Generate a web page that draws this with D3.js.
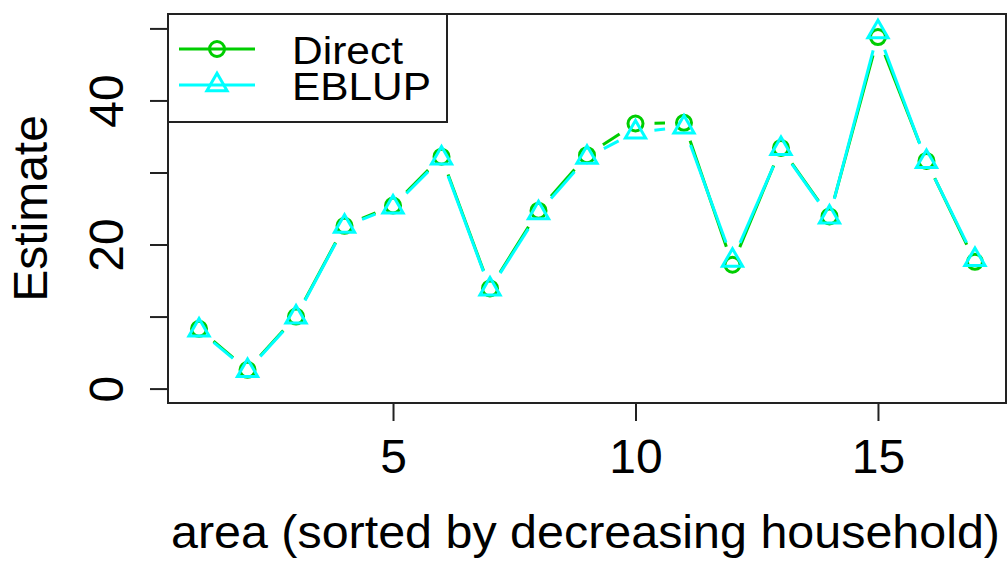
<!DOCTYPE html>
<html>
<head>
<meta charset="utf-8">
<script src="https://cdn.jsdelivr.net/npm/d3@7"></script>
<style>
  html, body { margin: 0; padding: 0; background: #fff; }
  svg { display: block; }
  text { font-family: "Liberation Sans", Arial, sans-serif; fill: #000; }
</style>
</head>
<body>
<svg id="chart" width="1007" height="561"></svg>
<script>
// ---- data ----
const areas = [1,2,3,4,5,6,7,8,9,10,11,12,13,14,15,16,17];
const directVals = [8.3, 2.6, 10.0, 22.6, 25.4, 32.2, 13.9, 24.7, 32.4, 36.8, 36.9, 17.2, 33.4, 23.9, 48.8, 31.6, 17.6];
const eblupVals  = [8.1, 2.5, 9.9, 22.5, 25.2, 32.0, 13.8, 24.4, 32.1, 35.6, 36.3, 17.8, 33.3, 23.8, 49.5, 31.5, 17.9];
const seriesNames = ["Direct", "EBLUP"];
const xTicks = [5, 10, 15];
const yTicks = [0, 10, 20, 30, 40, 50];
const yLabelTicks = [0, 20, 40];
const xTitle = "area (sorted by decreasing household)";
const yTitle = "Estimate";

// ---- layout ----
const plot = { left: 168, right: 1006, top: 14, bottom: 403 };
const colDirect = "#00CD00", colEblup = "#00FFFF";
const axisFont = 48, legendFont = 39;
const symR = 7.5, gap = 19;

const svg = d3.select("#chart");

const x = d3.scaleLinear().domain([0.36, 17.64]).range([plot.left, plot.right]);
const y = d3.scaleLinear().domain([-2, 52]).range([plot.bottom, plot.top]);

// axes
const xAxis = d3.axisBottom(x).tickValues(xTicks).tickSize(18).tickFormat(d3.format("d"));
const gx = svg.append("g").attr("transform", `translate(0,${plot.bottom})`).call(xAxis);
gx.select(".domain").remove();
gx.selectAll(".tick line").attr("stroke", "#222").attr("stroke-width", 2);
gx.selectAll(".tick text").attr("y", 70).attr("dy", 0).attr("font-size", axisFont)
  .attr("font-family", "Liberation Sans, Arial, sans-serif").attr("fill", "#000");

const yAxis = d3.axisLeft(y).tickValues(yTicks).tickSize(18)
  .tickFormat(d => yLabelTicks.includes(d) ? String(d) : "");
const gy = svg.append("g").attr("transform", `translate(${plot.left},0)`).call(yAxis);
gy.select(".domain").remove();
gy.selectAll(".tick line").attr("stroke", "#222").attr("stroke-width", 2);
gy.selectAll(".tick text")
  .attr("x", 0).attr("y", 0).attr("dy", 0)
  .attr("text-anchor", "middle")
  .attr("transform", "translate(-45,0) rotate(-90)")
  .attr("font-size", axisFont)
  .attr("font-family", "Liberation Sans, Arial, sans-serif").attr("fill", "#000");

// box
svg.append("rect")
  .attr("x", plot.left).attr("y", plot.top)
  .attr("width", plot.right - plot.left).attr("height", plot.bottom - plot.top)
  .attr("fill", "none").attr("stroke", "#222").attr("stroke-width", 2);

// titles
svg.append("text").attr("x", 171).attr("y", 548)
  .attr("font-size", 47).attr("textLength", 829).attr("lengthAdjust", "spacingAndGlyphs")
  .text(xTitle);
svg.append("text")
  .attr("transform", `translate(47,${(plot.top + plot.bottom) / 2}) rotate(-90)`)
  .attr("text-anchor", "middle").attr("font-size", axisFont).text(yTitle);

// symbols
function trianglePath(r) {
  const t0 = 1.5551 * r, t1 = 1.3468 * r, t2 = 0.7776 * r;
  return `M0,${-t0}L${t1},${t2}L${-t1},${t2}Z`;
}

// type="b" segments with gaps
function drawSeries(vals, color, shape) {
  const pts = areas.map((a, i) => [x(a), y(vals[i])]);
  const g = svg.append("g");
  for (let i = 0; i < pts.length - 1; i++) {
    const [x0, y0] = pts[i], [x1, y1] = pts[i + 1];
    const dx = x1 - x0, dy = y1 - y0, len = Math.hypot(dx, dy);
    if (len <= 2 * gap) continue;
    const ux = dx / len, uy = dy / len;
    g.append("line")
      .attr("x1", x0 + ux * gap).attr("y1", y0 + uy * gap)
      .attr("x2", x1 - ux * gap).attr("y2", y1 - uy * gap)
      .attr("stroke", color).attr("stroke-width", 3);
  }
  const sel = g.selectAll(".pt").data(pts).enter();
  if (shape === "circle") {
    sel.append("circle").attr("cx", d => d[0]).attr("cy", d => d[1]).attr("r", symR)
      .attr("fill", "none").attr("stroke", color).attr("stroke-width", 3);
  } else {
    sel.append("path").attr("d", trianglePath(symR))
      .attr("transform", d => `translate(${d[0]},${d[1]})`)
      .attr("fill", "none").attr("stroke", color).attr("stroke-width", 3);
  }
}
drawSeries(directVals, colDirect, "circle");
drawSeries(eblupVals, colEblup, "triangle");

// legend
const leg = svg.append("g");
leg.append("rect").attr("x", plot.left).attr("y", plot.top)
  .attr("width", 447 - plot.left).attr("height", 122 - plot.top)
  .attr("fill", "#fff").attr("stroke", "#222").attr("stroke-width", 2);
const legY = [49, 85];
const legCols = [colDirect, colEblup];
const legLen = [111, 139];
seriesNames.forEach((name, i) => {
  const yy = legY[i];
  leg.append("line").attr("x1", 179).attr("x2", 255).attr("y1", yy).attr("y2", yy)
    .attr("stroke", legCols[i]).attr("stroke-width", 3);
  if (i === 0) {
    leg.append("circle").attr("cx", 217).attr("cy", yy).attr("r", symR)
      .attr("fill", "none").attr("stroke", legCols[i]).attr("stroke-width", 3);
  } else {
    leg.append("path").attr("d", trianglePath(symR)).attr("transform", `translate(217,${yy})`)
      .attr("fill", "none").attr("stroke", legCols[i]).attr("stroke-width", 3);
  }
  leg.append("text").attr("x", 292).attr("y", yy + 15).attr("font-size", legendFont)
    .attr("textLength", legLen[i]).attr("lengthAdjust", "spacingAndGlyphs").text(name);
});
</script>
</body>
</html>
